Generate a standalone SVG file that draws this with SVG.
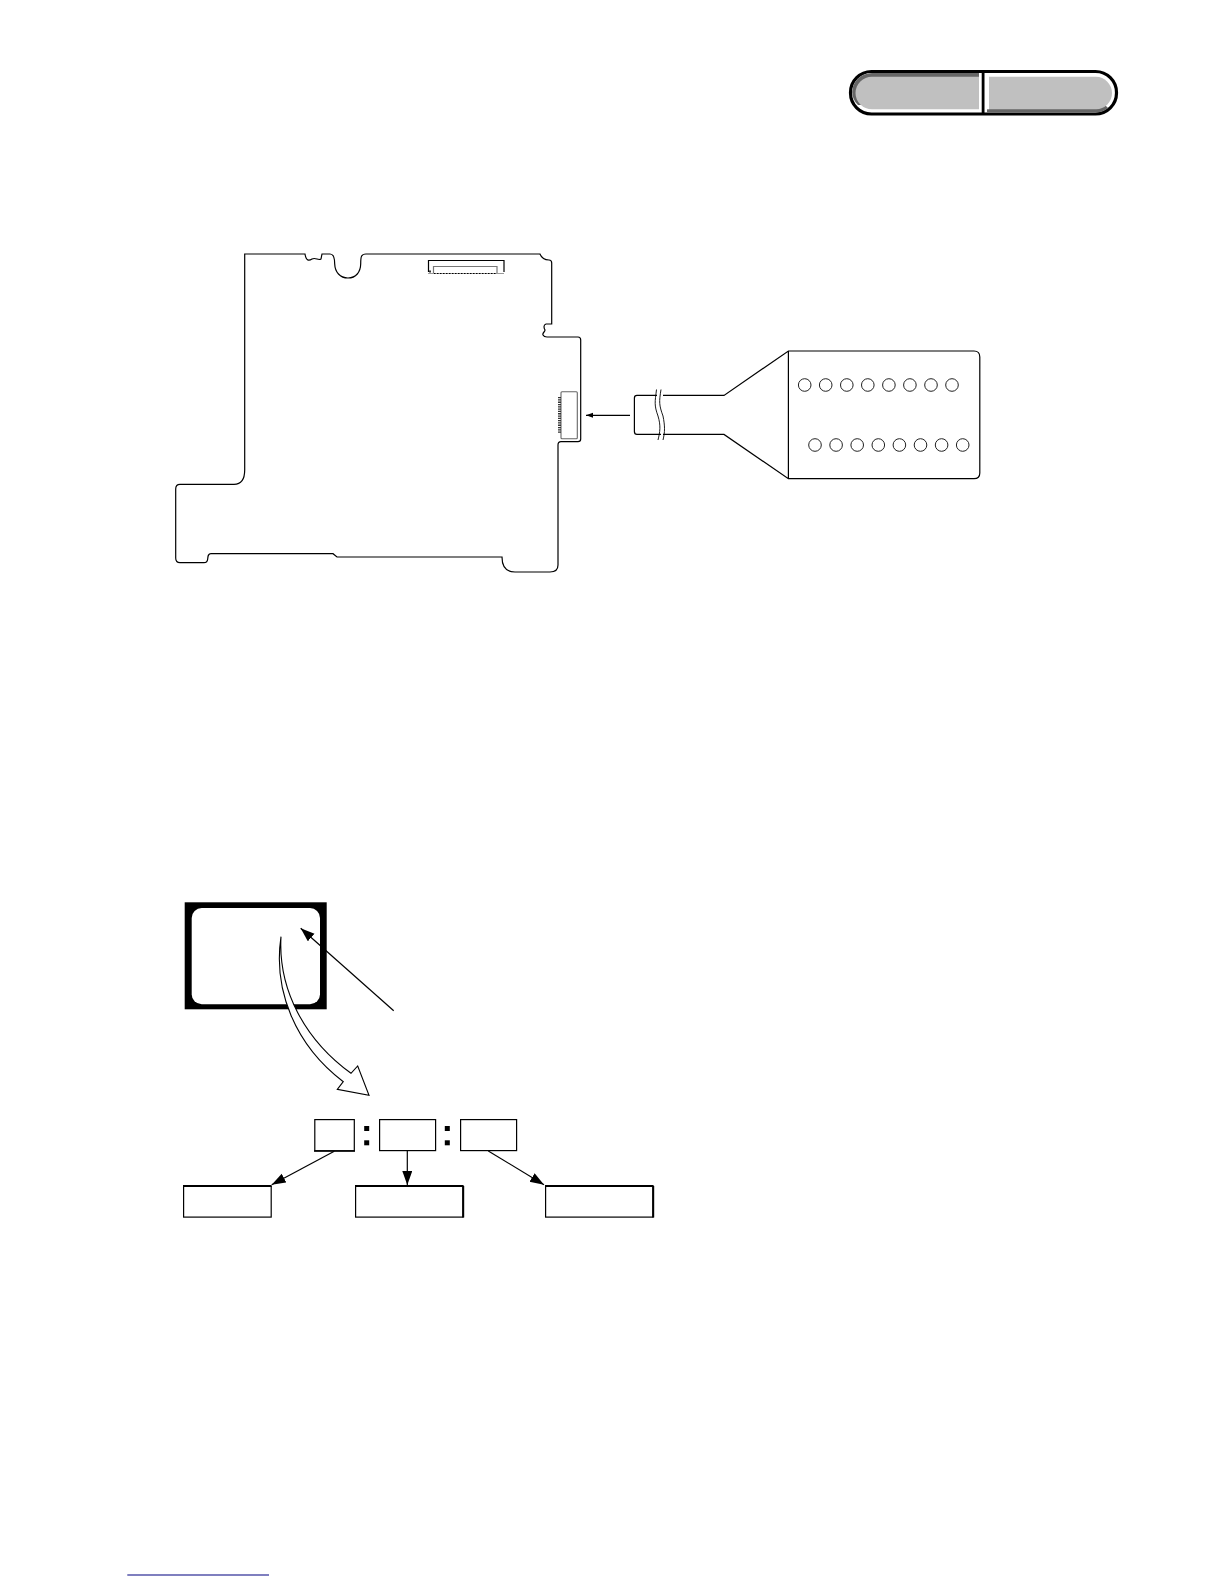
<svg xmlns="http://www.w3.org/2000/svg" width="1224" height="1584" viewBox="0 0 1224 1584">
<style>
.l{fill:none;stroke:#000;stroke-width:1.2}
.g{fill:none;stroke:#777;stroke-width:1.2}
.b{fill:#fff;stroke:#000;stroke-width:1.2}
.t{stroke:#000;stroke-width:2;fill:none}
.c{fill:#fff;stroke:#222;stroke-width:1}
.a{stroke:#000;stroke-width:1.2;fill:none;marker-end:url(#h)}
</style>
<defs>
<marker id="h" markerUnits="userSpaceOnUse" markerWidth="15" markerHeight="11" refX="14" refY="5" orient="auto"><path d="M0,0L14,5L0,10Z" fill="#000"/></marker>
<marker id="s" markerUnits="userSpaceOnUse" markerWidth="8" markerHeight="6" refX="7" refY="2.5" orient="auto"><path d="M0,0L7,2.5L0,5Z" fill="#000"/></marker>
</defs>
<rect width="1224" height="1584" fill="#fff"/>
<g id="pill">
<rect x="850.5" y="71.5" width="266" height="42.5" rx="21" fill="#fff" stroke="#000" stroke-width="3.2"/>
<path d="M979,72.9H872A20,19 0 0 0 852.2,92A18,18 0 0 0 858,105H979Z" fill="#666"/>
<path d="M987,112.6H1096A20,19 0 0 0 1108,108L1100,100H987Z" fill="#666"/>
<path d="M979,76.8H872A16.3,16.3 0 0 0 855.5,93A16.3,16.3 0 0 0 872,109.3H979Z" fill="#c0c0c0"/>
<path d="M989,76.8H1096A16.3,16.3 0 0 1 1112,93A16.3,16.3 0 0 1 1096,109.3H989Z" fill="#c0c0c0"/>
<rect x="984.5" y="100" width="4.5" height="9.3" fill="#fff"/>
<rect x="981.7" y="71" width="2.8" height="43" fill="#000"/>
</g>
<g id="board">
<path class="l" d="M244.7,470V254H305C306,261 309,261 312,259C316,257 318,261 321,259L322,254H330C334,254 334.7,258 334.7,264C335,272 340,278 348,278C356,278 360.5,272 360.7,264C360.7,257 361,254 366,254H540C542,259 545,260 549,260C551,260 551.7,261 551.7,263V324H546C543,325 544,328 545,330C545,332 542,333 543,335C544,337 545,337 547,337H578C580,337 580.7,338 580.7,340V439C580.7,441 580,441.7 578,441.7H561C559,441.7 558,443 558,445V565C558,570 555,572 550,572H515C507,572 502,567 502,557H337L333,553.7H211C208,553.7 208,556 207.7,559C207.5,562 206,562.7 204,562.7H180C177,562.7 175.7,561 175.7,558V489C175.7,486 177,484.3 180,484.3H234C241,484.3 244.7,480 244.7,470Z"/>
</g>
<g id="connector-top">
<path class="l" d="M428.5,272V260.5H504V272"/>
<path class="g" d="M433.5,273V266.5H497V273"/>
<path d="M428,273.5H504" stroke="#999" stroke-width="1" fill="none"/>
<path d="M434,273.5H497" stroke="#000" stroke-width="1.2" stroke-dasharray="1.5 1.5" fill="none"/>
<rect x="429" y="270.5" width="2" height="2" fill="#333"/>
</g>
<g id="connector-side">
<rect x="561" y="391.8" width="16.3" height="47" rx="1" fill="none" stroke="#666" stroke-width="1.1"/>
<path d="M559.5,397V433" stroke="#333" stroke-width="3" stroke-dasharray="1.3 1" fill="none"/>
</g>
<g id="flex">
<path class="l" d="M657,395.4H637C635,395.4 634.4,396.5 634.4,398V431.5C634.4,433.5 635,434.4 637,434.4H661M663,434.4H724L788.4,478.7H974C978,478.7 979.8,476 979.8,473V357C979.8,353 978,351 974,351H788.4L724,395.4H663M788.4,351V478.7"/>
<path class="l" d="M656.5,389.5C655,402 654,405 658,416C661,426 660,432 658,440M661,389.5C659,402 659,405 663,416C665,426 665,432 663,440" style="stroke-width:.9"/>
<g class="holes">
<circle class="c" cx="804.7" cy="385" r="6.3"/><circle class="c" cx="825.7" cy="385" r="6.3"/><circle class="c" cx="846.8" cy="385" r="6.3"/><circle class="c" cx="867.8" cy="385" r="6.3"/><circle class="c" cx="888.9" cy="385" r="6.3"/><circle class="c" cx="909.9" cy="385" r="6.3"/><circle class="c" cx="931" cy="385" r="6.3"/><circle class="c" cx="952" cy="385" r="6.3"/>
<circle class="c" cx="815" cy="445" r="6.3"/><circle class="c" cx="836.1" cy="445" r="6.3"/><circle class="c" cx="857.2" cy="445" r="6.3"/><circle class="c" cx="878.3" cy="445" r="6.3"/><circle class="c" cx="899.4" cy="445" r="6.3"/><circle class="c" cx="920.5" cy="445" r="6.3"/><circle class="c" cx="941.6" cy="445" r="6.3"/><circle class="c" cx="962.7" cy="445" r="6.3"/>
</g>
</g>
<g id="screen">
<rect x="184.7" y="902.3" width="142" height="107" fill="#000"/>
<rect x="191.7" y="908" width="128.3" height="96.3" rx="10" fill="#fff"/>
</g>
<g id="box1"><rect class="b" x="314.8" y="1119.6" width="39.5" height="31.2"/><path d="M314,1151H355" stroke="#000" stroke-width="1.6"/></g>
<g id="box2"><rect class="b" x="379.6" y="1119.6" width="56" height="31"/></g>
<g id="box3"><rect class="b" x="460.6" y="1119.6" width="56" height="31"/></g>
<g id="colons" fill="#000"><rect x="364.2" y="1126" width="5" height="5"/><rect x="364.2" y="1140.3" width="5" height="5"/><rect x="444.8" y="1126" width="5" height="5"/><rect x="444.8" y="1140.3" width="5" height="5"/></g>
<g id="label1"><rect class="b" x="183.6" y="1186.3" width="87.6" height="30.8"/><path class="t" d="M183,1186H271.5"/></g>
<g id="label2"><rect class="b" x="355.6" y="1186.3" width="107.4" height="30.8"/><path class="t" d="M355,1186H463.5M463.2,1186V1217.5"/></g>
<g id="label3"><rect class="b" x="545.6" y="1186.3" width="107.4" height="30.8"/><path class="t" d="M545,1186H653.5M653.2,1186V1217.5"/></g>
<g id="connectors">
<path class="a" style="marker-end:url(#s)" d="M630,415.3H586"/>
<path class="a" d="M393.7,1010.7L300.7,928.3"/>
<path d="M281,936.7C273,990 295,1045 343.3,1081.7L337.3,1089.3L369,1095.3L357.7,1066L351,1073.3C305,1040 278,990 281,936.7Z" fill="#fff" stroke="#000" stroke-width="1.1"/>
<path class="a" d="M334.3,1151.3L271.7,1184.7"/>
<path class="a" d="M407.3,1151V1185"/>
<path class="a" d="M488.3,1151L544,1184.7"/>
</g>
<path id="footer-rule" d="M127.3,1575H269" stroke="#000080" stroke-width="1.2" fill="none"/>
</svg>
